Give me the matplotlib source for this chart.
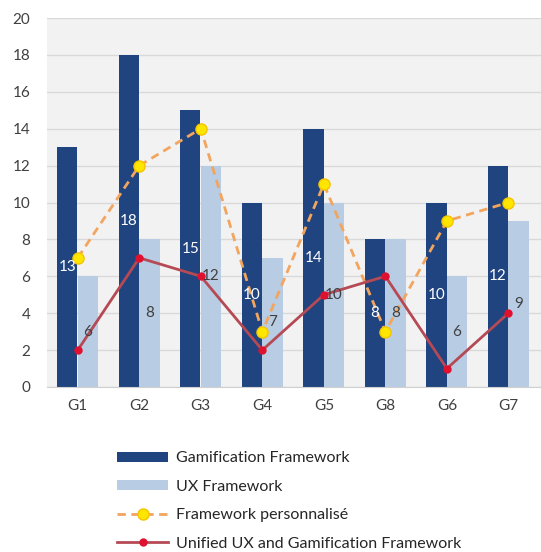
import numpy as np
import matplotlib.pyplot as plt

plt.rcParams['font.family'] = ['Lato', 'DejaVu Sans']

groups = ['G1', 'G2', 'G3', 'G4', 'G5', 'G8', 'G6', 'G7']
gamification = [13, 18, 15, 10, 14, 8, 10, 12]
ux = [6, 8, 12, 7, 10, 8, 6, 9]
personnalise = [7, 12, 14, 3, 11, 3, 9, 10]
unified = [2, 7, 6, 2, 5, 6, 1, 4]

dark = '#1f4480'
light = '#b8cce4'

fig = plt.figure(figsize=(5.41, 5.52), dpi=100)
ax = fig.add_axes([47 / 541, 1 - 387 / 552, 494 / 541, 369 / 552])
ax.set_facecolor('#f2f2f2')

x = np.arange(len(groups))
w = 0.33
b1 = ax.bar(x - w / 2 - 0.005, gamification, w, color=dark, label='Gamification Framework', zorder=2)
b2 = ax.bar(x + w / 2, ux, w, color=light, label='UX Framework', zorder=2)

for rect, v in zip(b1, gamification):
    ax.text(rect.get_x() + rect.get_width() / 2, v / 2, str(v), ha='center', va='center',
            color='white', fontsize=11, zorder=5)
for rect, v in zip(b2, ux):
    ax.text(rect.get_x() + rect.get_width() / 2, v / 2, str(v), ha='center', va='center',
            color='#404040', fontsize=11, zorder=5)

l1, = ax.plot(x, personnalise, color='#f2a55e', lw=2, ls=(0, (3, 2)), marker='o', ms=8,
              mfc='#ffe600', mec='#f5c400', label='Framework personnalisé', zorder=3)
l2, = ax.plot(x, unified, color='#b54a55', lw=2, marker='o', ms=5,
              mfc='#e0102f', mec='#e0102f', label='Unified UX and Gamification Framework', zorder=4)

ax.set_xlim(-0.5, len(groups) - 0.47)
ax.set_ylim(0, 20)
ax.set_yticks(range(0, 21, 2))
ax.set_xticks(x)
ax.set_xticklabels(groups)
ax.tick_params(length=0, labelsize=11, colors='#404040')
ax.tick_params(axis='x', pad=9)
ax.tick_params(axis='y', pad=12)
ax.yaxis.grid(True, color='#d9d9d9', lw=1, zorder=0)
ax.set_axisbelow(True)
for s in ['top', 'right', 'left']:
    ax.spines[s].set_visible(False)
ax.spines['bottom'].set_color('#d0d0d0')

fig.legend([b1, b2, l1, l2],
           ['Gamification Framework', 'UX Framework', 'Framework personnalisé',
            'Unified UX and Gamification Framework'],
           loc='upper left', bbox_to_anchor=(103 / 541, 1 - 437 / 552), frameon=False,
           fontsize=11.5, handlelength=3.2, handleheight=0.55, labelspacing=0.9,
           handletextpad=0.5, labelcolor='#262626')

fig.savefig('out.png', dpi=100)
